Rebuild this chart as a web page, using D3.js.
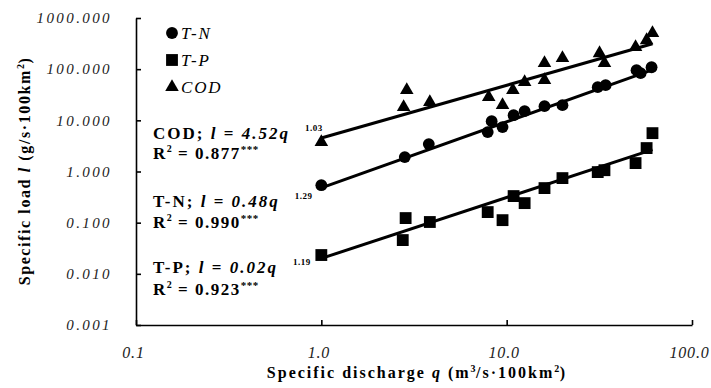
<!DOCTYPE html>
<html>
<head>
<meta charset="utf-8">
<script src="https://cdn.jsdelivr.net/npm/d3@7"></script>
<style>
  body { margin: 0; background: #fff; }
  svg { display: block; font-family: "Liberation Serif", "Times New Roman", serif; }
  .axis path, .axis line { stroke: #000; stroke-width: 1.6; }
</style>
</head>
<body>
<svg width="711" height="388"></svg>
<script>
// Data

const qCOD = [1.0, 2.89, 2.78, 3.85, 8.0, 9.5, 10.8, 12.5, 16.0, 16.0, 20.0, 31.7, 33.7, 49.6, 56.9, 61.2]
const lCOD = [3.75, 38.9, 18.1, 22.7, 28.4, 19.8, 38.9, 55.7, 131, 61.0, 164, 205, 131, 269, 368, 505]

const qTN = [1.0, 2.82, 3.80, 7.9, 8.3, 9.5, 10.9, 12.5, 16.0, 20.0, 31.0, 34.2, 50.2, 52.8, 60.5]
const lTN = [0.54, 1.91, 3.43, 5.89, 9.65, 7.37, 12.6, 15.1, 18.9, 19.8, 44.5, 48.7, 95.5, 83.5, 109]

const qTP = [1.0, 2.85, 2.75, 3.85, 7.9, 9.5, 10.9, 12.5, 16.0, 20.0, 31.0, 33.7, 49.6, 56.9, 61.2]
const lTP = [0.0233, 0.123, 0.0457, 0.103, 0.161, 0.112, 0.331, 0.241, 0.474, 0.743, 0.973, 1.06, 1.46, 2.87, 5.62]

// legend order
const seriesNames = ['T-N', 'T-P', 'COD']

// power-law fits l = a * q^b
const fitNames = ['COD', 'T-N', 'T-P']
const fitA = [4.52, 0.48, 0.02]
const fitB = [1.03, 1.29, 1.19]
const fitR2 = [0.877, 0.990, 0.923]

const xTicks = [0.1, 1, 10, 100]
const yTicks = [0.001, 0.01, 0.1, 1, 10, 100, 1000]

const FONT = '"Liberation Serif", "Times New Roman", serif'

// Setup

const svg = d3.select('svg')

const x = d3.scaleLog()
    .domain([0.1, 100])
    .range([136, 692])

const y = d3.scaleLog()
    .domain([0.001, 1000])
    .range([325, 18])

const series = {
  'T-N': {q: qTN, l: lTN, symbol: d3.symbolCircle, size: 110},
  'T-P': {q: qTP, l: lTP, symbol: d3.symbolSquare, size: 140},
  'COD': {q: qCOD, l: lCOD, symbol: d3.symbolTriangle, size: 80},
}

// Axes

const xAxis = svg.append('g')
    .attr('class', 'axis')
    .attr('transform', `translate(0, ${y.range()[0]})`)
    .call(d3.axisBottom(x)
      .tickValues(xTicks)
      .tickFormat(d3.format('.1f'))
      .tickSizeInner(-5)
      .tickSizeOuter(0)
      .tickPadding(22))

xAxis.selectAll('text')
    .attr('dx', -3)
    .style('font-size', '16px')
    .style('letter-spacing', '0.8px')

const yAxis = svg.append('g')
    .attr('class', 'axis')
    .attr('transform', `translate(${x.range()[0]}, 0)`)
    .call(d3.axisLeft(y)
      .tickValues(yTicks)
      .tickFormat(d3.format('.3f'))
      .tickSizeInner(-5)
      .tickSizeOuter(0)
      .tickPadding(24))

yAxis.selectAll('text')
    .style('font-size', '15px')
    .style('letter-spacing', '2.4px')

// italic serif tick labels, not the axis default sans-serif
svg.selectAll('.axis')
    .attr('font-family', null)
    .attr('font-size', null)
  .selectAll('text')
    .style('font-family', FONT)
    .style('font-style', 'italic')
    .attr('fill', '#222')

// rich text helper: parts = [{t, i, sup}]
function rich(text, parts) {
  let shift = 0
  parts.forEach(p => {
    const ts = text.append('tspan').text(p.t)
    if (p.i) ts.style('font-style', 'italic')
    const want = p.sup ? -p.sup : 0
    ts.attr('dy', want - shift)
    shift = want
    if (p.size) ts.style('font-size', p.size + 'px')
    if (p.sup) ts.style('letter-spacing', '0.5px')
    if (p.dx) ts.attr('dx', p.dx)
  })
}

// Axis titles

const xTitle = svg.append('text')
    .attr('x', 417)
    .attr('y', 378)
    .attr('text-anchor', 'middle')
    .style('font-weight', 'bold')
    .style('font-size', '16px')
    .style('letter-spacing', '2px')

rich(xTitle, [
  {t: 'Specific discharge '},
  {t: 'q', i: true},
  {t: '  (m'},
  {t: '3', sup: 6, size: 10},
  {t: '/s·100km'},
  {t: '2', sup: 6, size: 10},
  {t: ')'},
])

const yTitle = svg.append('text')
    .attr('transform', 'translate(30, 171) rotate(-90)')
    .attr('text-anchor', 'middle')
    .style('font-weight', 'bold')
    .style('font-size', '16px')
    .style('letter-spacing', '1.6px')

rich(yTitle, [
  {t: 'Specific load '},
  {t: 'l', i: true},
  {t: '  (g/s·100km'},
  {t: '2', sup: 6, size: 10},
  {t: ')'},
])

// Fit lines

const line = d3.line()
    .x(d => x(d[0]))
    .y(d => y(d[1]))

fitNames.forEach((name, i) => {
  const s = series[name]
  const ends = d3.extent(s.q)
  svg.append('path')
      .attr('d', line(ends.map(q => [q, fitA[i] * Math.pow(q, fitB[i])])))
      .attr('fill', 'none')
      .attr('stroke', '#000')
      .attr('stroke-width', 3)
})

// Points

seriesNames.forEach(name => {
  const s = series[name]
  const pts = d3.zip(s.q, s.l)
  svg.append('g')
    .selectAll('path')
    .data(pts)
    .join('path')
      .attr('transform', d => `translate(${x(d[0])}, ${y(d[1])})`)
      .attr('d', d3.symbol(s.symbol, s.size))
      .attr('fill', '#000')
})

// Legend

const legend = svg.append('g')
    .attr('transform', 'translate(172, 33)')

seriesNames.forEach((name, i) => {
  const g = legend.append('g')
      .attr('transform', `translate(0, ${i * 27})`)
  g.append('path')
      .attr('d', d3.symbol(series[name].symbol, series[name].size))
      .attr('fill', '#000')
  g.append('text')
      .attr('x', 9)
      .attr('y', 6)
      .style('font-style', 'italic')
      .style('font-size', '17px')
      .style('letter-spacing', '1.8px')
      .text(name)
})

// Equations

const eqBase = [139, 207, 273]
const r2Base = [159, 228, 295]

fitNames.forEach((name, i) => {
  const eq = svg.append('text')
      .attr('x', 153)
      .attr('y', eqBase[i])
      .style('font-weight', 'bold')
      .style('font-size', '17px')
      .style('letter-spacing', '2px')
  rich(eq, [
    {t: name + '; '},
    {t: 'l', i: true},
    {t: ' = '},
    {t: d3.format('.2f')(fitA[i]) + 'q', i: true},
    {t: d3.format('.2f')(fitB[i]), sup: 8, size: 9, dx: 15},
  ])

  const r2 = svg.append('text')
      .attr('x', 153)
      .attr('y', r2Base[i])
      .style('font-weight', 'bold')
      .style('font-size', '17px')
      .style('letter-spacing', '1.5px')
  rich(r2, [
    {t: 'R'},
    {t: '2', sup: 7, size: 10},
    {t: ' = ' + d3.format('.3f')(fitR2[i])},
    {t: '***', sup: 6, size: 11},
  ])
})
</script>
</body>
</html>
